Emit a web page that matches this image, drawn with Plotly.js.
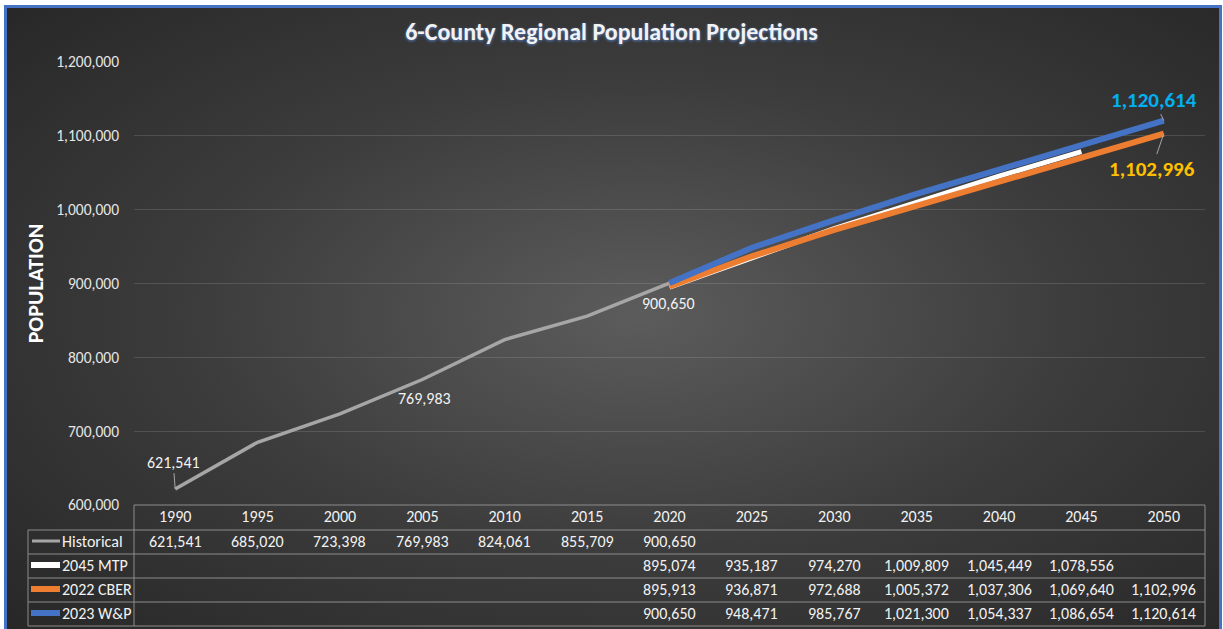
<!DOCTYPE html>
<html>
<head>
<meta charset="utf-8">
<script src="https://cdn.plot.ly/plotly-3.0.1.min.js"></script>
<style>
  html, body { margin:0; padding:0; background:#ffffff; width:1223px; height:629px; overflow:hidden; }
  #bg { position:absolute; left:4px; top:5px; width:1212px; height:640px; border:3px solid #4472C4;
        background: radial-gradient(ellipse farthest-corner at 52% 48%, #5c5c5c 0%, #3c3c3c 50%, #262626 100%); }
  #chart { position:absolute; left:0; top:0; width:1223px; height:629px; }
</style>
</head>
<body>
<div id="bg"></div>
<div id="chart"></div>
<script>
// ---- data ----
const years = [1990, 1995, 2000, 2005, 2010, 2015, 2020, 2025, 2030, 2035, 2040, 2045, 2050];
const histYears = [1990, 1995, 2000, 2005, 2010, 2015, 2020];
const historical = [621541, 685020, 723398, 769983, 824061, 855709, 900650];
const projYears = [2020, 2025, 2030, 2035, 2040, 2045, 2050];
const mtp2045 = [895074, 935187, 974270, 1009809, 1045449, 1078556];
const cber2022 = [895913, 936871, 972688, 1005372, 1037306, 1069640, 1102996];
const wp2023 = [900650, 948471, 985767, 1021300, 1054337, 1086654, 1120614];
const seriesNames = ["Historical", "2045 MTP", "2022 CBER", "2023 W&P"];
const seriesColors = ["#A6A6A6", "#FFFFFF", "#ED7D31", "#4472C4"];
const titleText = "6-County Regional Population Projections";

// ---- layout helpers (pixel -> paper) ----
const W = 1223, H = 629, L = 134, R = 18, T = 62, B = 124;
const plotW = W - L - R, plotH = H - T - B;
const px = p => (p - L) / plotW;
const py = p => (H - B - p) / plotH;
const FONT = "Carlito, Calibri, 'Open Sans', sans-serif";
const fmt = v => v.toLocaleString('en-US');
const FS = 16;

const traces = [
  {x: histYears, y: historical, name: seriesNames[0], mode: 'lines',
   line: {color: seriesColors[0], width: 3.5}, hoverinfo: 'skip'},
  {x: projYears.slice(0, mtp2045.length), y: mtp2045, name: seriesNames[1], mode: 'lines',
   line: {color: seriesColors[1], width: 5}, hoverinfo: 'skip'},
  {x: projYears, y: cber2022, name: seriesNames[2], mode: 'lines',
   line: {color: seriesColors[2], width: 6}, hoverinfo: 'skip'},
  {x: projYears, y: wp2023, name: seriesNames[3], mode: 'lines',
   line: {color: seriesColors[3], width: 6}, hoverinfo: 'skip'}
];

// ---- table ----
const rowCenters = [541, 565, 589, 613];
const rowLines = [530, 554, 578, 602, 626];
const tableColor = "#8C8C8C";
const shapes = [];
const annotations = [];

shapes.push({type:'line', xref:'paper', yref:'paper', x0:0, x1:1, y0:py(505), y1:py(505), line:{color:tableColor, width:1}});
rowLines.forEach(r => shapes.push({type:'line', xref:'paper', yref:'paper', x0:px(28), x1:1, y0:py(r), y1:py(r), line:{color:tableColor, width:1}}));
shapes.push({type:'line', xref:'paper', yref:'paper', x0:px(28), x1:px(28), y0:py(530), y1:py(626), line:{color:tableColor, width:1}});
shapes.push({type:'line', xref:'paper', yref:'paper', x0:0, x1:0, y0:py(505), y1:py(626), line:{color:tableColor, width:1}});
shapes.push({type:'line', xref:'paper', yref:'paper', x0:1, x1:1, y0:py(505), y1:py(626), line:{color:tableColor, width:1}});

const rowsData = [
  [histYears, historical],
  [projYears.slice(0, mtp2045.length), mtp2045],
  [projYears, cber2022],
  [projYears, wp2023]
];
rowsData.forEach((rd, i) => {
  const [xs, vs] = rd;
  xs.forEach((yr, j) => {
    annotations.push({x: yr, y: py(rowCenters[i]), xref:'x', yref:'paper', text: fmt(vs[j]),
      showarrow:false, font:{family:FONT, size:FS, color:'#F2F2F2'}, xanchor:'center', yanchor:'middle'});
  });
  shapes.push({type:'line', xref:'paper', yref:'paper', x0:px(i === 0 ? 32 : 31), x1:px(60),
    y0:py(rowCenters[i]), y1:py(rowCenters[i]),
    line:{color: seriesColors[i], width: i === 0 ? 3 : 6}});
  annotations.push({x: px(60), y: py(rowCenters[i]), xref:'paper', yref:'paper', text: seriesNames[i],
    showarrow:false, font:{family:FONT, size:FS, color:'#F2F2F2'}, xanchor:'left', yanchor:'middle'});
});

// ---- data labels ----
const lblFont = {family:FONT, size:FS, color:'#F2F2F2'};
annotations.push({x: histYears[0], y: historical[0], xref:'x', yref:'y', text: fmt(historical[0]),
  showarrow:true, arrowhead:0, arrowwidth:1, arrowcolor:'#A6A6A6', ax:-2, ay:-27, font:lblFont});
annotations.push({x: histYears[3], y: historical[3], xref:'x', yref:'y', text: fmt(historical[3]),
  showarrow:false, xshift:2, yshift:-19, font:lblFont});
annotations.push({x: histYears[6], y: historical[6], xref:'x', yref:'y', text: fmt(historical[6]),
  showarrow:false, xshift:-1, yshift:-20, font:lblFont});
annotations.push({x: projYears[6], y: wp2023[6], xref:'x', yref:'y', text: '<b>' + fmt(wp2023[6]) + '</b>',
  showarrow:true, arrowhead:0, arrowwidth:1, arrowcolor:'#A6A6A6', ax:-10, ay:-21,
  font:{family:FONT, size:21, color:'#00B0F0'}});
annotations.push({x: projYears[6], y: cber2022[6], xref:'x', yref:'y', text: '<b>' + fmt(cber2022[6]) + '</b>',
  showarrow:true, arrowhead:0, arrowwidth:1, arrowcolor:'#A6A6A6', ax:-12, ay:35,
  font:{family:FONT, size:21, color:'#FFC000'}});

const layout = {
  width: W, height: H,
  margin: {l:L, r:R, t:T, b:B, pad:0},
  paper_bgcolor: 'rgba(0,0,0,0)',
  plot_bgcolor: 'rgba(0,0,0,0)',
  showlegend: false,
  title: {text: '<b>' + titleText + '</b>', x: 0.5, xanchor:'center', y: 1 - 32/H, yanchor:'middle',
          font: {family: FONT, size: 24, color:'#F2F2F2', shadow: '0px 1px 3px rgba(91,139,216,0.9)'}},
  xaxis: {type:'linear', range:[1987.5, 2052.5], tickvals: years, ticktext: years.map(String),
          showgrid:false, zeroline:false, showline:false, ticks:'', ticklabelstandoff: 0,
          tickfont:{family:FONT, size:FS, color:'#F2F2F2'}, fixedrange:true},
  yaxis: {range:[600000, 1200000], dtick:100000, tickformat:',', showgrid:true,
          gridcolor:'rgba(255,255,255,0.13)', gridwidth:1, zeroline:false, showline:false, ticks:'',
          ticklabelstandoff: 14,
          tickfont:{family:FONT, size:15.5, color:'#E6E6E6'},
          title:{text:'<b>POPULATION</b>', standoff: 6, font:{family:FONT, size:22, color:'#FFFFFF'}},
          fixedrange:true},
  shapes: shapes,
  annotations: annotations
};

Plotly.newPlot('chart', traces, layout, {displayModeBar:false, staticPlot:true});
</script>
</body>
</html>
